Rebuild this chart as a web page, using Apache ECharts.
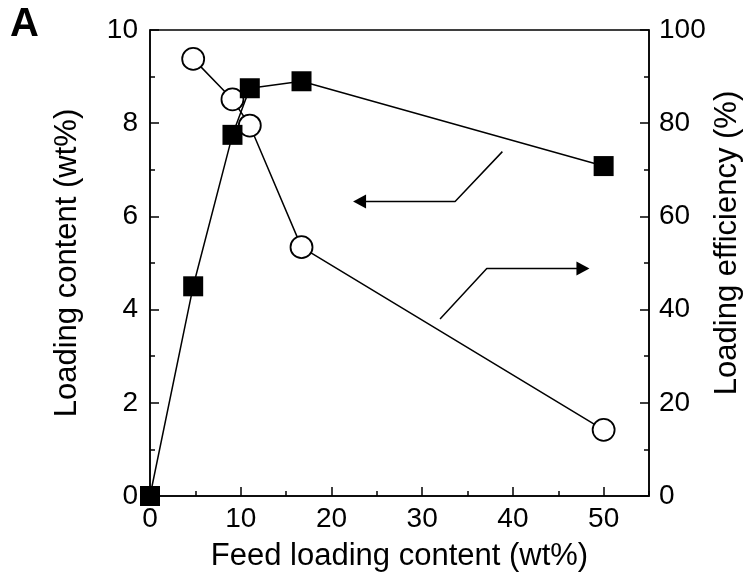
<!DOCTYPE html>
<html>
<head>
<meta charset="utf-8">
<script src="https://cdn.jsdelivr.net/npm/echarts@6/dist/echarts.min.js"></script>
<style>
  html, body { margin: 0; padding: 0; background: #fff; }
  #chart { width: 745px; height: 575px; }
</style>
</head>
<body>
<div id="chart"></div>
<script>
// Feed loading content (wt%) for each formulation
const feedLoading = [0, 4.76, 9.09, 11.0, 16.7, 50];
// Loading content (wt%), left axis
const loadingContent = [0, 4.5, 7.75, 8.75, 8.9, 7.08];
// Loading efficiency (%), right axis (no point at 0 feed)
const effFeed = [4.76, 9.09, 11.0, 16.7, 50];
const loadingEfficiency = [93.8, 85.1, 79.5, 53.4, 14.2];

// Annotation arrows, in (feed wt%, loading content wt%) units
const arrowLeft = [[38.84, 7.39], [33.63, 6.32], [23.10, 6.32]];
const arrowRight = [[31.97, 3.80], [37.12, 4.88], [47.72, 4.88]];

const FONT = 'Liberation Sans, Arial, Helvetica, sans-serif';

const chart = echarts.init(document.getElementById('chart'), null, { renderer: 'canvas' });

const lineAxis = { show: true, onZero: false, lineStyle: { color: '#000', width: 1.5 } };
const tickLabel = { color: '#000', fontSize: 28, fontFamily: FONT };

function arrowData(pts, rot) {
  return pts.map((p, i) => i === pts.length - 1
    ? { value: p, symbol: 'triangle', symbolSize: [14, 13], symbolRotate: rot }
    : { value: p, symbol: 'none' });
}

chart.setOption({
  animation: false,
  backgroundColor: '#fff',
  grid: {
    left: 150, right: 96, top: 30, bottom: 79,
    outerBoundsMode: 'none', containLabel: false,
    show: true, borderColor: '#000', borderWidth: 1.5, backgroundColor: 'transparent'
  },
  graphic: [{
    type: 'text', left: 10, top: 5,
    style: { text: 'A', fontSize: 40, fontWeight: 'bold', fontFamily: FONT, fill: '#000' }
  }],
  xAxis: [{
    type: 'value', min: 0, max: 55, interval: 10,
    axisLine: lineAxis,
    axisTick: { show: true, inside: true, length: 9, lineStyle: { color: '#000', width: 1.5 } },
    axisLabel: Object.assign({ margin: 9, showMaxLabel: false,
      formatter: v => (v % 10 === 0 ? String(v) : '') }, tickLabel),
    splitLine: { show: false },
    name: 'Feed loading content (wt%)', nameLocation: 'middle', nameGap: 45, nameMoveOverlap: false,
    nameTextStyle: { color: '#000', fontSize: 31, fontFamily: FONT }
  }, {
    // minor ticks every 5 wt%
    type: 'value', min: 0, max: 55, interval: 5, position: 'bottom',
    axisLine: { show: false },
    axisTick: { show: true, inside: true, length: 5, lineStyle: { color: '#000', width: 1.5 } },
    axisLabel: { show: false },
    splitLine: { show: false }
  }],
  yAxis: [{
    type: 'value', min: 0, max: 10, interval: 2, position: 'left',
    axisLine: lineAxis,
    axisTick: { show: true, inside: true, length: 9, lineStyle: { color: '#000', width: 1.5 } },
    minorTick: { show: true, splitNumber: 2, length: 5, lineStyle: { color: '#000', width: 1.5 } },
    axisLabel: Object.assign({ margin: 12 }, tickLabel),
    splitLine: { show: false },
    name: 'Loading content (wt%)', nameLocation: 'middle', nameGap: 67, nameMoveOverlap: false,
    nameTextStyle: { color: '#000', fontSize: 31, fontFamily: FONT }
  }, {
    type: 'value', min: 0, max: 100, interval: 20, position: 'right',
    axisLine: lineAxis,
    axisTick: { show: true, inside: true, length: 9, lineStyle: { color: '#000', width: 1.5 } },
    minorTick: { show: true, splitNumber: 2, length: 5, lineStyle: { color: '#000', width: 1.5 } },
    axisLabel: Object.assign({ margin: 10 }, tickLabel),
    splitLine: { show: false },
    name: 'Loading efficiency (%)', nameLocation: 'middle', nameGap: 63, nameMoveOverlap: false,
    nameTextStyle: { color: '#000', fontSize: 31, fontFamily: FONT, padding: [0, 0, 0, 40] }
  }],
  series: [{
    name: 'Loading efficiency',
    type: 'line', xAxisIndex: 0, yAxisIndex: 1, clip: false, z: 3,
    data: effFeed.map((x, i) => [x, loadingEfficiency[i]]),
    symbol: 'circle', symbolSize: 22, showAllSymbol: true,
    lineStyle: { color: '#000', width: 1.5 },
    itemStyle: { color: '#fff', borderColor: '#000', borderWidth: 1.8 }
  }, {
    name: 'Loading content',
    type: 'line', xAxisIndex: 0, yAxisIndex: 0, clip: false, z: 4,
    data: feedLoading.map((x, i) => [x, loadingContent[i]]),
    symbol: 'rect', symbolSize: 20, showAllSymbol: true,
    lineStyle: { color: '#000', width: 1.5 },
    itemStyle: { color: '#000', borderColor: '#000', borderWidth: 0 }
  }, {
    name: 'arrow-content',
    type: 'line', xAxisIndex: 0, yAxisIndex: 0, clip: false, z: 2,
    data: arrowData(arrowLeft, 90),
    lineStyle: { color: '#000', width: 1.5 },
    itemStyle: { color: '#000' }, silent: true
  }, {
    name: 'arrow-efficiency',
    type: 'line', xAxisIndex: 0, yAxisIndex: 0, clip: false, z: 2,
    data: arrowData(arrowRight, -90),
    lineStyle: { color: '#000', width: 1.5 },
    itemStyle: { color: '#000' }, silent: true
  }]
});
</script>
</body>
</html>
